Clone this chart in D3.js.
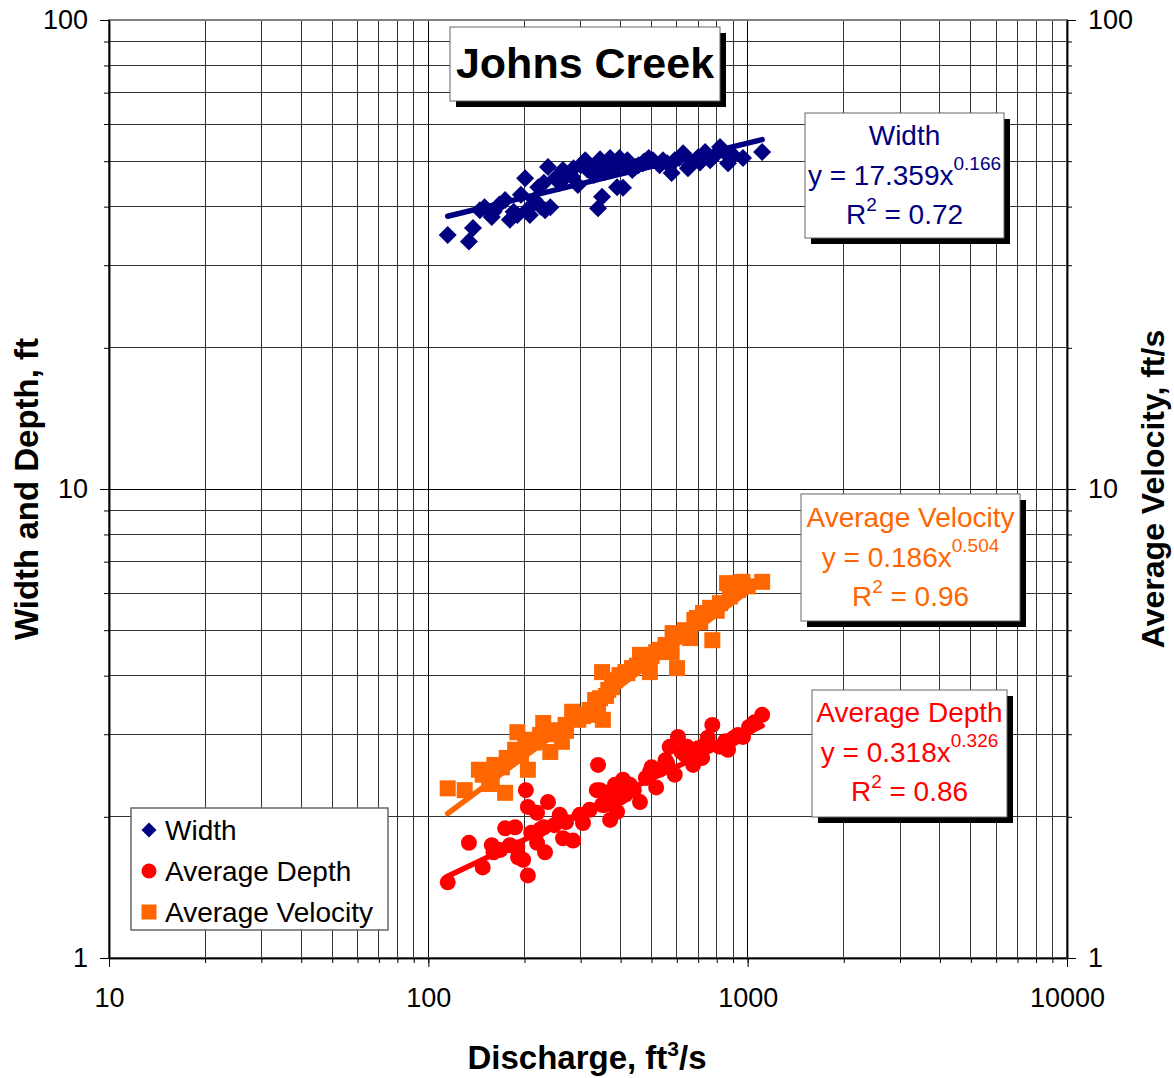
<!DOCTYPE html>
<html>
<head>
<meta charset="utf-8">
<script src="https://cdn.jsdelivr.net/npm/d3@7"></script>
<style>
  body { margin: 0; background: #fff; }
  svg { display: block; font-family: "Liberation Sans", Arial, sans-serif; }
</style>
</head>
<body>
<svg id="chart"></svg>
<script>
const widthPts = [
  [115,34.8],[138,36.0],[134,33.7],[150,39.9],[158,38.0],[174,41.3],[180,37.5],[190,38.4],
  [201,46.0],[208,38.4],[221,44.0],[232,39.3],[237,48.6],[241,39.9],[264,47.9],[282,46.3],
  [310,50.2],[350,42.0],[340,39.7],[366,49.0],[390,44.0],[407,43.9],[371,50.8],[397,50.8],
  [470,49.5],[505,50.2],[543,50.2],[578,47.2],[628,52.0],[650,48.3],[709,49.7],[819,53.6],
  [868,49.5],[967,50.8],[1110,52.3],[322,47.9],[333,49.0],[355,47.4],[384,48.3],[414,49.0],
  [445,48.6],[474,49.9],[530,49.0],[591,50.2],[660,49.0],[763,50.2],[736,52.3],[901,51.5],
  [294,44.5],[258,44.9],[195,42.4],[167,40.4],[145,39.3],[215,41.3],
  [300,49.0],[315,48.0],[345,50.5],[360,48.6],[380,49.5],[420,50.2],[435,47.9],[455,49.0],
  [490,50.8],[560,49.5],[610,50.8],[700,51.0],[790,51.5],[840,52.5],[270,46.5],[250,46.0],
  [230,45.0],[285,48.3],[330,46.7],[185,39.0],[205,39.5],[225,40.0],[160,39.0]
];
const depthPts = [
  [115,1.45],[134,1.76],[148,1.56],[158,1.74],[174,1.89],[187,1.90],[191,1.64],[198,1.62],
  [205,1.50],[202,2.28],[205,2.10],[219,2.04],[237,2.15],[232,1.68],[219,1.76],[258,2.02],
  [264,1.80],[284,1.78],[305,1.94],[340,2.58],[337,2.28],[371,1.97],[376,2.17],[350,2.12],
  [407,2.40],[460,2.15],[494,2.49],[517,2.31],[570,2.82],[605,2.96],[591,2.46],[646,2.82],
  [675,2.58],[720,2.67],[736,2.85],[775,3.14],[819,2.82],[868,2.78],[901,2.94],[967,2.96],
  [1110,3.30],[345,2.28],[384,2.34],[414,2.23],[428,2.34],[530,2.52],[553,2.64],[637,2.71],
  [681,2.64],[933,2.99],[1010,3.11],[1050,3.18],[298,2.02],[320,2.07],[248,1.92],[168,1.70],
  [180,1.74],[224,1.88],[357,2.12],
  [360,2.25],[390,2.05],[400,2.20],[440,2.28],[480,2.42],[500,2.55],[560,2.60],[620,2.75],
  [700,2.80],[750,2.95],[850,2.90],[270,1.95],[230,1.90],[210,1.85],[190,1.72],[160,1.68]
];
const velocityPts = [
  [115,2.30],[130,2.28],[148,2.46],[158,2.42],[174,2.25],[176,2.67],[190,3.03],[205,2.52],
  [208,2.92],[229,3.17],[241,2.75],[262,2.89],[282,3.35],[295,3.22],[315,3.30],[352,3.22],
  [345,3.58],[350,4.07],[376,3.78],[414,4.07],[460,4.43],[494,4.07],[517,4.49],[601,4.15],
  [578,4.49],[582,4.93],[660,4.81],[694,5.31],[775,4.76],[725,5.44],[819,5.71],[862,6.30],
  [963,6.34],[1110,6.34],[144,2.52],[161,2.58],[187,2.78],[201,2.85],[224,2.99],[250,3.06],
  [269,3.14],[298,3.30],[320,3.38],[333,3.55],[366,3.73],[384,3.91],[397,4.01],[434,4.15],
  [474,4.32],[530,4.54],[553,4.65],[637,5.00],[681,5.26],[763,5.58],[933,6.09],
  [340,3.45],[360,3.62],[420,4.05],[450,4.20],[500,4.40],[560,4.55],[620,4.85],[650,4.95],
  [710,5.20],[800,5.50],[880,5.90],[1000,6.20],[235,3.00],[215,2.88],[195,2.70],[170,2.55],
  [155,2.35],[270,3.05],[305,3.28]
];

// power fits shown on the chart: [coefficient, exponent, R2]
const widthFit = [17.359, 0.166, 0.72];
const depthFit = [0.318, 0.326, 0.86];
const velocityFit = [0.186, 0.504, 0.96];

const xMajor = [10, 100, 1000, 10000];
const yMajor = [1, 10, 100];
const legendNames = ["Width", "Average Depth", "Average Velocity"];

const W = 1174, H = 1078;
const margin = {top: 20, right: 107, bottom: 120, left: 109};
const font = "'Liberation Sans', Arial, sans-serif";
const colors = {width: "#000080", depth: "#FF0000", velocity: "#FF6600"};

const svg = d3.select("#chart").attr("width", W).attr("height", H);

const x = d3.scaleLog().domain([10, 10000]).range([margin.left, W - margin.right]);
const y = d3.scaleLog().domain([1, 100]).range([H - margin.bottom, margin.top]);

// all 1..9 x 10^k positions
function logSteps(lo, hi) {
  let out = [];
  for (let p = lo; p < hi; p *= 10)
    for (let m = 1; m < 10; m++) out.push(m * p);
  out.push(hi);
  return out;
}
const xGrid = logSteps(10, 10000);
const yGrid = logSteps(1, 100);

const grid = svg.append("g").attr("shape-rendering", "crispEdges");
grid.selectAll(".vg").data(xGrid).enter().append("line")
  .attr("x1", d => x(d)).attr("x2", d => x(d))
  .attr("y1", y(100)).attr("y2", y(1))
  .attr("stroke", d => xMajor.includes(d) ? "#000" : "#333").attr("stroke-width", 1);
grid.selectAll(".hg").data(yGrid).enter().append("line")
  .attr("y1", d => y(d)).attr("y2", d => y(d))
  .attr("x1", x(10)).attr("x2", x(10000))
  .attr("stroke", d => yMajor.includes(d) ? "#000" : "#333").attr("stroke-width", 1);

// plot border
svg.append("rect")
  .attr("x", x(10)).attr("y", y(100))
  .attr("width", x(10000) - x(10)).attr("height", y(1) - y(100))
  .attr("fill", "none").attr("stroke", "#808080").attr("stroke-width", 2);

// axes
function styleAxis(g) {
  g.selectAll("path.domain").attr("stroke", "#000").attr("stroke-width", 1.5);
  g.selectAll(".tick line").attr("stroke", "#000");
  g.selectAll("text").attr("font-family", font).attr("font-size", 27).attr("fill", "#000");
}
const fmt = d => d3.format("d")(d);

svg.append("g").attr("transform", `translate(0,${y(1)})`)
  .call(d3.axisBottom(x).tickValues(xGrid).tickFormat("").tickSize(5).tickSizeOuter(0)).call(styleAxis);
svg.append("g").attr("transform", `translate(0,${y(1)})`)
  .call(d3.axisBottom(x).tickValues(xMajor).tickFormat(fmt).tickSize(9).tickPadding(21).tickSizeOuter(0)).call(styleAxis);

svg.append("g").attr("transform", `translate(${x(10)},0)`)
  .call(d3.axisLeft(y).tickValues(yGrid).tickFormat("").tickSize(5).tickSizeOuter(0)).call(styleAxis);
svg.append("g").attr("transform", `translate(${x(10)},0)`)
  .call(d3.axisLeft(y).tickValues(yMajor).tickFormat(fmt).tickSize(9).tickPadding(12).tickSizeOuter(0)).call(styleAxis);

svg.append("g").attr("transform", `translate(${x(10000)},0)`)
  .call(d3.axisRight(y).tickValues(yGrid).tickFormat("").tickSize(5).tickSizeOuter(0)).call(styleAxis);
svg.append("g").attr("transform", `translate(${x(10000)},0)`)
  .call(d3.axisRight(y).tickValues(yMajor).tickFormat(fmt).tickSize(9).tickPadding(12).tickSizeOuter(0)).call(styleAxis);

// axis titles
const xt = svg.append("text")
  .attr("x", 587).attr("y", 1069)
  .attr("text-anchor", "middle").attr("font-family", font)
  .attr("font-size", 33).attr("font-weight", "bold");
xt.append("tspan").text("Discharge, ft");
xt.append("tspan").attr("font-size", 21).attr("dy", -13).text("3");
xt.append("tspan").attr("dy", 13).text("/s");

svg.append("text")
  .attr("transform", `translate(38,${(y(1) + y(100)) / 2}) rotate(-90)`)
  .attr("text-anchor", "middle").attr("font-family", font)
  .attr("font-size", 33).attr("font-weight", "bold")
  .text("Width and Depth, ft");

svg.append("text")
  .attr("transform", `translate(1164,${(y(1) + y(100)) / 2}) rotate(-90)`)
  .attr("text-anchor", "middle").attr("font-family", font)
  .attr("font-size", 32).attr("font-weight", "bold")
  .text("Average Velocity, ft/s");

// markers
const plot = svg.append("g");
const diamond = "M0,-9L9,0L0,9L-9,0Z";
const square = "M-8,-8H8V8H-8Z";

plot.selectAll(".w").data(widthPts).enter().append("path")
  .attr("d", diamond).attr("fill", colors.width)
  .attr("transform", d => `translate(${x(d[0])},${y(d[1])})`);
plot.selectAll(".dp").data(depthPts).enter().append("circle")
  .attr("r", 8).attr("fill", colors.depth)
  .attr("cx", d => x(d[0])).attr("cy", d => y(d[1]));
plot.selectAll(".v").data(velocityPts).enter().append("path")
  .attr("d", square).attr("fill", colors.velocity)
  .attr("transform", d => `translate(${x(d[0])},${y(d[1])})`);

// trend lines (power fits) over the data range
const line = d3.line().x(d => x(d[0])).y(d => y(d[1]));
function trend(pts, fit, color) {
  const lo = d3.min(pts, d => d[0]), hi = d3.max(pts, d => d[0]);
  const ends = [lo, hi].map(q => [q, fit[0] * Math.pow(q, fit[1])]);
  plot.append("path").datum(ends).attr("d", line)
    .attr("fill", "none").attr("stroke", color)
    .attr("stroke-width", 5.5).attr("stroke-linecap", "round");
}
trend(widthPts, widthFit, colors.width);
trend(depthPts, depthFit, colors.depth);
trend(velocityPts, velocityFit, colors.velocity);

// boxes with shadow
function shadowBox(bx, by, bw, bh) {
  svg.append("rect").attr("x", bx + 6).attr("y", by + 6).attr("width", bw).attr("height", bh).attr("fill", "#000");
  svg.append("rect").attr("x", bx).attr("y", by).attr("width", bw).attr("height", bh)
    .attr("fill", "#fff").attr("stroke", "#666").attr("stroke-width", 1);
}

shadowBox(450, 27, 270, 74);
svg.append("text").attr("x", 585).attr("y", 78)
  .attr("text-anchor", "middle").attr("font-family", font)
  .attr("font-size", 43).attr("font-weight", "bold").text("Johns Creek");

function fitBox(bx, by, bw, bh, name, fit, color, base) {
  shadowBox(bx, by, bw, bh);
  const cx = bx + bw / 2;
  const g = svg.append("g").attr("font-family", font).attr("fill", color).attr("text-anchor", "middle");
  g.append("text").attr("x", cx).attr("y", base).attr("font-size", 28).text(name);
  const eq = g.append("text").attr("x", cx).attr("y", base + 40).attr("font-size", 28);
  eq.append("tspan").text(`y = ${fit[0]}x`);
  eq.append("tspan").attr("font-size", 19).attr("dy", -15).text(fit[1].toFixed(3));
  const r2 = g.append("text").attr("x", cx).attr("y", base + 79).attr("font-size", 28);
  r2.append("tspan").text("R");
  r2.append("tspan").attr("font-size", 19).attr("dy", -13).text("2");
  r2.append("tspan").attr("dy", 13).text(` = ${fit[2].toFixed(2)}`);
}
fitBox(805, 113, 199, 125, legendNames[0], widthFit, colors.width, 145);
fitBox(801, 494, 219, 127, legendNames[2], velocityFit, colors.velocity, 527);
fitBox(812, 690, 195, 127, legendNames[1], depthFit, colors.depth, 722);

// legend
const leg = svg.append("g").attr("transform", "translate(131,808)");
leg.append("rect").attr("width", 257).attr("height", 122)
  .attr("fill", "#fff").attr("stroke", "#666").attr("stroke-width", 1.5);
const legMarks = [
  g => g.append("path").attr("d", "M0,-7.5L7.5,0L0,7.5L-7.5,0Z").attr("fill", colors.width),
  g => g.append("circle").attr("r", 7.5).attr("fill", colors.depth),
  g => g.append("path").attr("d", "M-7.5,-7.5H7.5V7.5H-7.5Z").attr("fill", colors.velocity)
];
legendNames.forEach((name, i) => {
  const row = leg.append("g").attr("transform", `translate(18,${22 + i * 41})`);
  legMarks[i](row);
  row.append("text").attr("x", 16).attr("y", 10).attr("font-family", font)
    .attr("font-size", 28).attr("fill", "#000").text(name);
});
</script>
</body>
</html>
